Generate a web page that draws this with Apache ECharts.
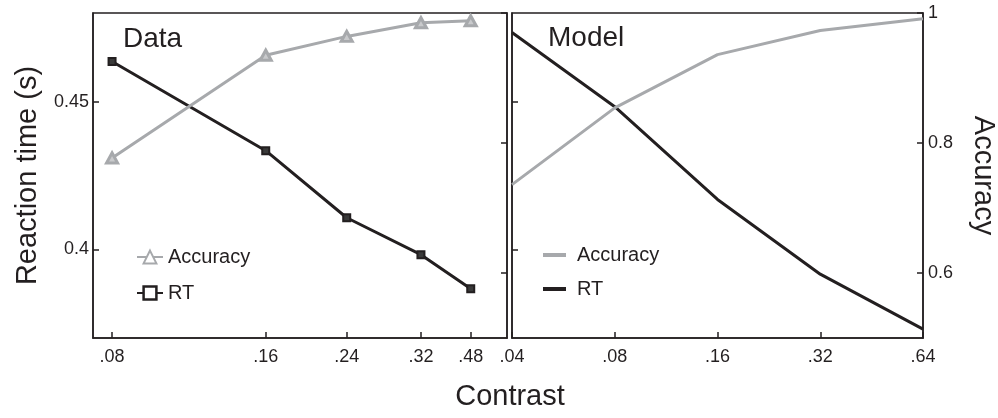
<!DOCTYPE html>
<html>
<head>
<meta charset="utf-8">
<script src="https://cdn.jsdelivr.net/npm/echarts@6/dist/echarts.min.js"></script>
<style>
html,body{margin:0;padding:0;background:#fff;}
#chart{width:998px;height:418px;}
</style>
</head>
<body>
<div id="chart"></div>
<script>
// ---- Data panel (left) ----
const dataContrastLabels = ['.08', '.16', '.24', '.32', '.48'];
// location of each contrast along the Data panel's (non-uniform) contrast axis
const dataContrastPos = [0, 1, 1.527, 2.01, 2.334];
const dataAccuracy = [0.777, 0.935, 0.964, 0.985, 0.988];
const dataRT = [0.4636, 0.4334, 0.4107, 0.3982, 0.3867];

// ---- Model panel (right) ----
const modelContrast = [0.04, 0.08, 0.16, 0.32, 0.64];
const modelContrastLabels = ['.04', '.08', '.16', '.32', '.64'];
const modelAccuracy = [0.736, 0.854, 0.936, 0.973, 0.991];
const modelRT = [0.4734, 0.4483, 0.4169, 0.3916, 0.373];

// ---- axis ticks ----
const rtTicks = [0.4, 0.45];
const accTicks = [0.6, 0.8, 1];

const INK = '#231f20';
const GRAY = '#a7a9ac';
const FONT = 'Liberation Sans';

function nearestLabel(v, pos, labels) {
  let best = 0;
  for (let i = 1; i < pos.length; i++) {
    if (Math.abs(pos[i] - v) < Math.abs(pos[best] - v)) best = i;
  }
  return labels[best];
}

const axisLine = { show: true, onZero: false, lineStyle: { color: INK, width: 1.5 } };
const tick = (vals) => ({ show: true, inside: true, length: 6, customValues: vals, lineStyle: { color: INK, width: 1.5 } });
const lbl = (vals, extra) => Object.assign({ customValues: vals, fontSize: 18, color: INK, fontFamily: FONT }, extra);

const chart = echarts.init(document.getElementById('chart'), null, { renderer: 'canvas' });
chart.setOption({
  animation: false,
  backgroundColor: '#fff',
  textStyle: { fontFamily: FONT, color: INK },
  grid: [
    { left: 93, top: 13, width: 414, height: 325, show: true, borderColor: INK, borderWidth: 1.5, backgroundColor: 'transparent' },
    { left: 512, top: 13, width: 413, height: 325, show: true, borderColor: INK, borderWidth: 1.5, backgroundColor: 'transparent' }
  ],
  xAxis: [
    {
      gridIndex: 0, type: 'value', min: -0.124, max: 2.57,
      axisLine: axisLine, axisTick: tick(dataContrastPos), splitLine: { show: false },
      axisLabel: lbl(dataContrastPos, { margin: 10, formatter: (v) => nearestLabel(v, dataContrastPos, dataContrastLabels) })
    },
    {
      gridIndex: 1, type: 'log', logBase: 2, min: 0.04, max: 0.64,
      axisLine: axisLine, axisTick: tick(modelContrast), splitLine: { show: false }, minorTick: { show: false },
      axisLabel: lbl(modelContrast, { margin: 10, formatter: (v) => nearestLabel(v, modelContrast, modelContrastLabels) })
    }
  ],
  yAxis: [
    {
      gridIndex: 0, type: 'value', min: 0.37, max: 0.48, position: 'left',
      name: 'Reaction time (s)', nameLocation: 'middle', nameGap: 51,
      nameTextStyle: { fontSize: 29, color: INK, fontFamily: FONT },
      axisLine: axisLine, axisTick: tick(rtTicks), splitLine: { show: false },
      axisLabel: lbl(rtTicks, { margin: 4 })
    },
    {
      gridIndex: 0, type: 'value', min: 0.5, max: 1, position: 'right',
      axisLine: axisLine, axisTick: tick(accTicks), splitLine: { show: false },
      axisLabel: { show: false }
    },
    {
      gridIndex: 1, type: 'value', min: 0.37, max: 0.48, position: 'left',
      axisLine: axisLine, axisTick: tick(rtTicks), splitLine: { show: false },
      axisLabel: { show: false }
    },
    {
      gridIndex: 1, type: 'value', min: 0.5, max: 1, position: 'right',
      name: 'Accuracy', nameLocation: 'middle', nameGap: 45, nameRotate: -90,
      nameTextStyle: { fontSize: 29, color: INK, fontFamily: FONT },
      axisLine: axisLine, axisTick: tick(accTicks), splitLine: { show: false },
      axisLabel: lbl(accTicks, { margin: 5 })
    }
  ],
  legend: [
    {
      data: [
        { name: 'Accuracy', itemStyle: { color: '#fff', borderColor: GRAY, borderWidth: 2 } },
        { name: 'RT', itemStyle: { color: '#fff', borderColor: INK, borderWidth: 2.5 } }
      ],
      orient: 'vertical', left: 131, top: 241,
      itemWidth: 26, itemHeight: 16, itemGap: 14,
      textStyle: { fontSize: 20, lineHeight: 22, color: INK, fontFamily: FONT },
      selectedMode: false
    },
    {
      data: [
        { name: 'Model Accuracy', icon: 'rect', itemStyle: { color: GRAY, borderWidth: 0 } },
        { name: 'Model RT', icon: 'rect', itemStyle: { color: INK, borderWidth: 0 } }
      ],
      orient: 'vertical', left: 538, top: 239,
      itemWidth: 23, itemHeight: 4, itemGap: 12,
      textStyle: { fontSize: 20, lineHeight: 22, color: INK, fontFamily: FONT, padding: [0, 0, 0, 6] },
      formatter: (n) => n.replace('Model ', ''),
      selectedMode: false
    }
  ],
  series: [
    {
      name: 'RT', type: 'line', xAxisIndex: 0, yAxisIndex: 0,
      data: dataContrastPos.map((x, i) => [x, dataRT[i]]),
      symbol: 'rect', symbolSize: 7,
      lineStyle: { color: INK, width: 3 },
      itemStyle: { color: '#3a3a3a', borderColor: INK, borderWidth: 2 }
    },
    {
      name: 'Accuracy', type: 'line', xAxisIndex: 0, yAxisIndex: 1,
      data: dataContrastPos.map((x, i) => [x, dataAccuracy[i]]),
      symbol: 'triangle', symbolSize: [11, 10],
      lineStyle: { color: GRAY, width: 3 },
      itemStyle: { color: '#c9cacc', borderColor: GRAY, borderWidth: 3 }
    },
    {
      name: 'Model RT', type: 'line', xAxisIndex: 1, yAxisIndex: 2,
      data: modelContrast.map((x, i) => [x, modelRT[i]]),
      symbol: 'none',
      lineStyle: { color: INK, width: 3 },
      itemStyle: { color: INK }
    },
    {
      name: 'Model Accuracy', type: 'line', xAxisIndex: 1, yAxisIndex: 3,
      data: modelContrast.map((x, i) => [x, modelAccuracy[i]]),
      symbol: 'none',
      lineStyle: { color: GRAY, width: 3 },
      itemStyle: { color: GRAY }
    }
  ],
  graphic: [
    { type: 'text', left: 123, top: 25, style: { text: 'Data', fontSize: 28, fill: INK, fontFamily: FONT } },
    { type: 'text', left: 548, top: 24, style: { text: 'Model', fontSize: 28, fill: INK, fontFamily: FONT } },
    { type: 'text', x: 510, y: 397, style: { text: 'Contrast', fontSize: 29, fill: INK, fontFamily: FONT, align: 'center', verticalAlign: 'middle' } }
  ]
});
</script>
</body>
</html>
